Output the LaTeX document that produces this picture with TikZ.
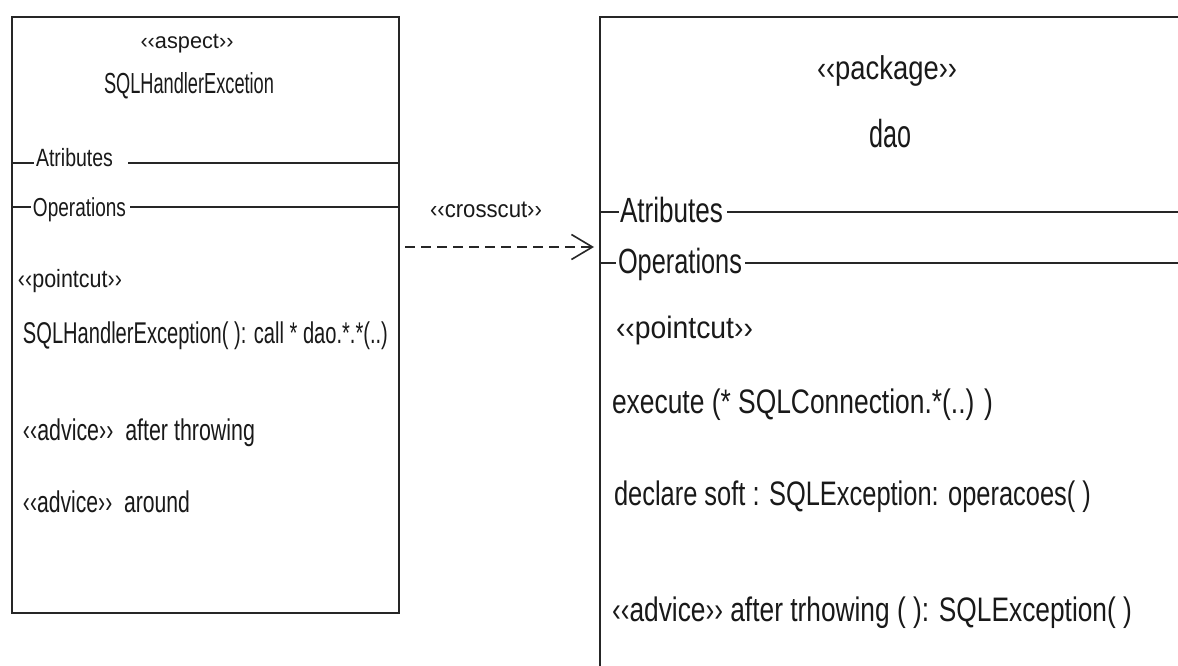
\documentclass[tikz,border=0pt]{standalone}
\usepackage{graphicx}
\usepackage{fontspec}
\setmainfont{Liberation Sans}
\usetikzlibrary{arrows.meta}

% set #3 at font size #2, then squeeze it horizontally to width #1
\newlength\natw
\newcommand\fittext[3]{%
  \settowidth\natw{\fontsize{#2pt}{#2pt}\selectfont #3}%
  \edef\sqz{\fpeval{#1/\natw}}%
  \scalebox{\sqz}[1]{\fontsize{#2pt}{#2pt}\selectfont #3}}

\begin{document}
\begin{tikzpicture}[x=1pt,y=-1pt,
  ink/.style={draw=black!85, line width=1.6pt},
  boxnode/.style={ink, inner sep=0pt, outer sep=0pt, anchor=north west},
  lbl/.style={inner sep=0pt, outer sep=0pt, anchor=base west, text=black!90},
  ctr/.style={lbl, anchor=base},
  depends/.style={draw=black!85, line width=1.6pt, dash pattern=on 10pt off 6pt,
    -{Straight Barb[length=21pt, width=25pt, line width=1.6pt]}}]

\useasboundingbox (0,0) rectangle (1178,666);
\clip (0,0) rectangle (1178,666);
\fill[white] (0,0) rectangle (1178,666);

% ---------- aspect box ----------
\node[boxnode, minimum width=387pt, minimum height=596pt] (aspectbox) at (12,17) {};

\node[ctr] (aspst)  at (187,49)  {\fittext{93}{22}{‹‹aspect››}};
\node[ctr] (aspnm)  at (189,94)  {\fittext{170}{29}{SQLHandlerExcetion}};

\node[lbl] (attrL)  at (36,167)  {\fittext{77}{25}{Atributes}};
\node[lbl] (operL)  at (33,216)  {\fittext{93}{26}{Operations}};
\draw[ink] (aspectbox.west |- 0,163) -- (34,163);
\draw[ink] (128,163) -- (aspectbox.east |- 0,163);
\draw[ink] (aspectbox.west |- 0,207) -- (31,207);
\draw[ink] (130,207) -- (aspectbox.east |- 0,207);

\node[lbl] (pcL)    at (18,287)  {\fittext{104}{25}{‹‹pointcut››}};
\node[lbl] (pcexpr) at (23,343)  {\fittext{365}{30}{SQLHandlerException( ): call * dao.*.*(..)}};
\node[lbl] (advA)   at (23,440)  {\fittext{232}{30}{‹‹advice››\ \ after throwing}};
\node[lbl] (advB)   at (23,512)  {\fittext{167}{30}{‹‹advice››\ \ around}};

% ---------- package box (runs past the right and bottom edges) ----------
\node[boxnode, minimum width=700pt, minimum height=720pt] (daobox) at (600,17) {};

\node[ctr] (pkgst)  at (887,80)  {\fittext{140}{33}{‹‹package››}};
\node[ctr] (pkgnm)  at (890,147) {\fittext{42}{39}{dao}};

\node[lbl] (attrR)  at (620,222) {\fittext{103}{35}{Atributes}};
\node[lbl] (operR)  at (618,273) {\fittext{124}{35}{Operations}};
\draw[ink] (daobox.west |- 0,212) -- (619,212);
\draw[ink] (727,212) -- (1178,212);
\draw[ink] (daobox.west |- 0,263) -- (616,263);
\draw[ink] (745,263) -- (1178,263);

\node[lbl] (pcR)    at (616,338) {\fittext{137}{31}{‹‹pointcut››}};
\node[lbl] (exec)   at (612,413) {\fittext{381}{34}{execute (* SQLConnection.*(..) )}};
\node[lbl] (decl)   at (614,505) {\fittext{477}{34}{declare soft : SQLException: operacoes( )}};
\node[lbl] (advR)   at (612,621) {\fittext{520}{34}{‹‹advice›› after trhowing ( ): SQLException( )}};

% ---------- crosscut dependency ----------
\coordinate (lvl) at (0,247);
\node[ctr] (cross) at (486,217) {\fittext{112}{24}{‹‹crosscut››}};
\draw[depends, shorten <=6pt, shorten >=6pt] (aspectbox.east |- lvl) -- (daobox.west |- lvl);

\end{tikzpicture}
\end{document}
